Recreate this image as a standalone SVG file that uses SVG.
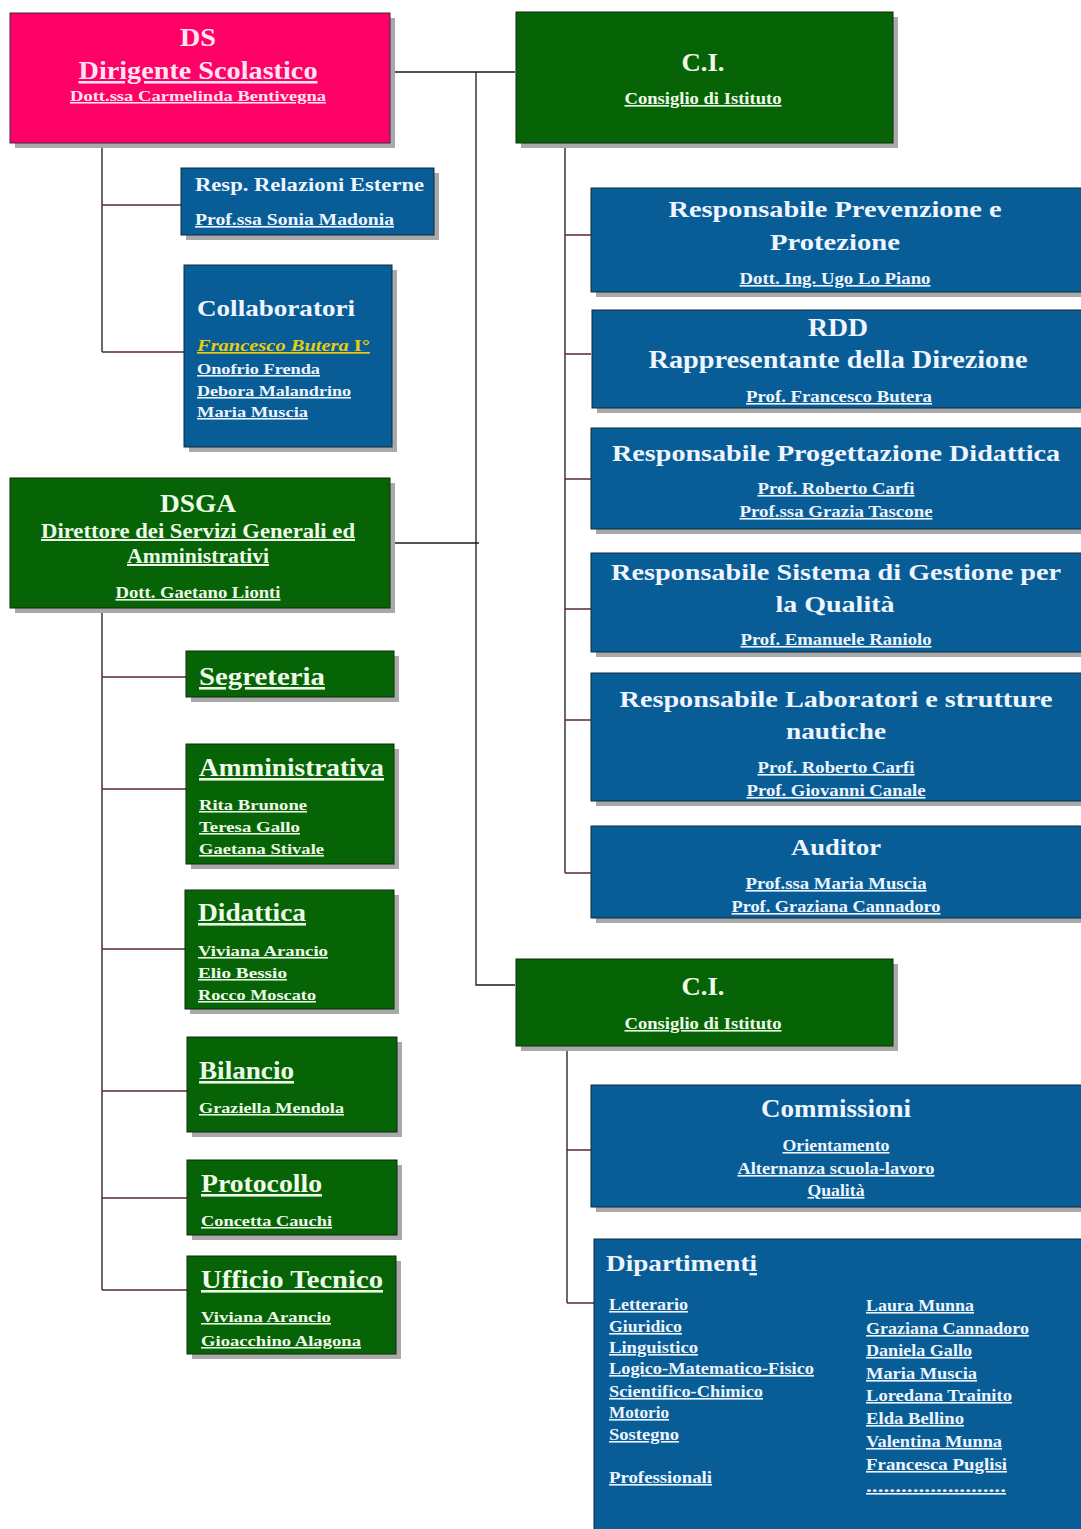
<svg xmlns="http://www.w3.org/2000/svg" width="1081" height="1529" viewBox="0 0 1081 1529">
  <style>
    text { font-family: "Liberation Serif", "Times New Roman", serif; font-weight: bold; }
    .shadow { fill: #a9a9a9; }
    .pink { fill: #ff0066; stroke: #3a2a40; stroke-width: 1; }
    .blue { fill: #095d97; stroke: #0c2b3c; stroke-width: 1; }
    .green { fill: #066406; stroke: #0f2a0f; stroke-width: 1; }
    .tp { fill: #ffe4f0; }
    .tb { fill: #eef5ff; }
    .tg { fill: #eefbe8; }
    .u { text-decoration: underline; }
    .c { text-anchor: middle; }
    .trunk { stroke: #1a1a1a; stroke-width: 1.3; fill: none; }
    .branch { stroke: #5a2438; stroke-width: 1.3; fill: none; }
  </style>

  <!-- connectors -->
  <g id="connectors">
    <path class="trunk" d="M390 72 H515 M476 72 V985 H515"/>
    <path class="trunk" d="M390 543 H479"/>
    <path class="trunk" d="M102 143 V352"/>
    <path class="branch" d="M102 205 H181 M102 352 H184"/>
    <path class="trunk" d="M102 608 V1290"/>
    <path class="branch" d="M102 677 H186 M102 789 H186 M102 949 H185 M102 1091 H187 M102 1198 H187 M102 1290 H187"/>
    <path class="trunk" d="M565 143 V873"/>
    <path class="branch" d="M565 235 H591 M565 354 H591 M565 479 H591 M565 609 H591 M565 720 H591 M565 873 H591"/>
    <path class="trunk" d="M567 1046 V1303"/>
    <path class="branch" d="M567 1150 H591 M567 1303 H594"/>
  </g>

  <!-- DS -->
  <g id="ds">
    <rect class="shadow" x="15" y="18" width="380" height="130"/>
    <rect class="pink" x="10" y="13" width="380" height="130"/>
    <text class="tp c" x="198" y="46" font-size="25" textLength="36" lengthAdjust="spacingAndGlyphs">DS</text>
    <text class="tp c u" x="198" y="79" font-size="25" textLength="239" lengthAdjust="spacingAndGlyphs">Dirigente Scolastico</text>
    <text class="tp c u" x="198" y="101" font-size="15.5" textLength="256" lengthAdjust="spacingAndGlyphs">Dott.ssa Carmelinda  Bentivegna</text>
  </g>

  <!-- Resp. Relazioni Esterne -->
  <g id="resp-relazioni">
    <rect class="shadow" x="186" y="173" width="253" height="67"/>
    <rect class="blue" x="181" y="168" width="253" height="67"/>
    <text class="tb" x="195" y="191" font-size="19" textLength="229" lengthAdjust="spacingAndGlyphs">Resp. Relazioni Esterne</text>
    <text class="tb u" x="195" y="225" font-size="16.5" textLength="199" lengthAdjust="spacingAndGlyphs">Prof.ssa Sonia Madonia</text>
  </g>

  <!-- Collaboratori -->
  <g id="collaboratori">
    <rect class="shadow" x="189" y="270" width="208" height="182"/>
    <rect class="blue" x="184" y="265" width="208" height="182"/>
    <text class="tb" x="197" y="316" font-size="24" textLength="158" lengthAdjust="spacingAndGlyphs">Collaboratori</text>
    <text class="u" x="197" y="351" font-size="17" fill="#e8cc10" font-style="italic" font-weight="normal" textLength="173" lengthAdjust="spacingAndGlyphs">Francesco Butera <tspan font-style="normal" font-weight="bold">I°</tspan></text>
    <text class="tb u" x="197" y="374" font-size="15.5" textLength="123" lengthAdjust="spacingAndGlyphs">Onofrio Frenda</text>
    <text class="tb u" x="197" y="396" font-size="15.5" textLength="154" lengthAdjust="spacingAndGlyphs">Debora Malandrino</text>
    <text class="tb u" x="197" y="417" font-size="15.5" textLength="111" lengthAdjust="spacingAndGlyphs">Maria Muscia</text>
  </g>

  <!-- DSGA -->
  <g id="dsga">
    <rect class="shadow" x="15" y="483" width="380" height="130"/>
    <rect class="green" x="10" y="478" width="380" height="130"/>
    <text class="tg c" x="198" y="512" font-size="26" textLength="76" lengthAdjust="spacingAndGlyphs">DSGA</text>
    <text class="tg c u" x="198" y="538" font-size="20" textLength="314" lengthAdjust="spacingAndGlyphs">Direttore dei Servizi Generali ed</text>
    <text class="tg c u" x="198" y="563" font-size="20" textLength="142" lengthAdjust="spacingAndGlyphs">Amministrativi</text>
    <text class="tg c u" x="198" y="598" font-size="16" textLength="165" lengthAdjust="spacingAndGlyphs">Dott. Gaetano Lionti</text>
  </g>

  <!-- DSGA offices -->
  <g id="segreteria">
    <rect class="shadow" x="191" y="656" width="208" height="46"/>
    <rect class="green" x="186" y="651" width="208" height="46"/>
    <text class="tg u" x="199" y="685" font-size="26" textLength="126" lengthAdjust="spacingAndGlyphs">Segreteria</text>
  </g>
  <g id="amministrativa">
    <rect class="shadow" x="191" y="749" width="208" height="120"/>
    <rect class="green" x="186" y="744" width="208" height="120"/>
    <text class="tg u" x="199" y="776" font-size="26" textLength="185" lengthAdjust="spacingAndGlyphs">Amministrativa</text>
    <text class="tg u" x="199" y="810" font-size="15.5" textLength="108" lengthAdjust="spacingAndGlyphs">Rita Brunone</text>
    <text class="tg u" x="199" y="832" font-size="15.5" textLength="101" lengthAdjust="spacingAndGlyphs">Teresa Gallo</text>
    <text class="tg u" x="199" y="854" font-size="15.5" textLength="125" lengthAdjust="spacingAndGlyphs">Gaetana Stivale</text>
  </g>
  <g id="didattica">
    <rect class="shadow" x="190" y="895" width="209" height="119"/>
    <rect class="green" x="185" y="890" width="209" height="119"/>
    <text class="tg u" x="198" y="921" font-size="26" textLength="108" lengthAdjust="spacingAndGlyphs">Didattica</text>
    <text class="tg u" x="198" y="956" font-size="15.5" textLength="130" lengthAdjust="spacingAndGlyphs">Viviana Arancio</text>
    <text class="tg u" x="198" y="978" font-size="15.5" textLength="89" lengthAdjust="spacingAndGlyphs">Elio Bessio</text>
    <text class="tg u" x="198" y="1000" font-size="15.5" textLength="118" lengthAdjust="spacingAndGlyphs">Rocco Moscato</text>
  </g>
  <g id="bilancio">
    <rect class="shadow" x="192" y="1042" width="210" height="95"/>
    <rect class="green" x="187" y="1037" width="210" height="95"/>
    <text class="tg u" x="199" y="1079" font-size="26" textLength="95" lengthAdjust="spacingAndGlyphs">Bilancio</text>
    <text class="tg u" x="199" y="1113" font-size="15.5" textLength="145" lengthAdjust="spacingAndGlyphs">Graziella Mendola</text>
  </g>
  <g id="protocollo">
    <rect class="shadow" x="192" y="1165" width="210" height="75"/>
    <rect class="green" x="187" y="1160" width="210" height="75"/>
    <text class="tg u" x="201" y="1192" font-size="26" textLength="121" lengthAdjust="spacingAndGlyphs">Protocollo</text>
    <text class="tg u" x="201" y="1226" font-size="15.5" textLength="131" lengthAdjust="spacingAndGlyphs">Concetta Cauchi</text>
  </g>
  <g id="ufficio-tecnico">
    <rect class="shadow" x="192" y="1261" width="209" height="98"/>
    <rect class="green" x="187" y="1256" width="209" height="98"/>
    <text class="tg u" x="201" y="1288" font-size="26" textLength="182" lengthAdjust="spacingAndGlyphs">Ufficio Tecnico</text>
    <text class="tg u" x="201" y="1322" font-size="15.5" textLength="130" lengthAdjust="spacingAndGlyphs">Viviana Arancio</text>
    <text class="tg u" x="201" y="1346" font-size="15.5" textLength="160" lengthAdjust="spacingAndGlyphs">Gioacchino Alagona</text>
  </g>

  <!-- C.I. (top) -->
  <g id="ci-top">
    <rect class="shadow" x="521" y="17" width="377" height="131"/>
    <rect class="green" x="516" y="12" width="377" height="131"/>
    <text class="tg c" x="703" y="71" font-size="26" textLength="43" lengthAdjust="spacingAndGlyphs">C.I.</text>
    <text class="tg c u" x="703" y="104" font-size="16" textLength="157" lengthAdjust="spacingAndGlyphs">Consiglio di Istituto</text>
  </g>

  <!-- Responsabili -->
  <g id="rspp">
    <rect class="shadow" x="596" y="193" width="490" height="104"/>
    <rect class="blue" x="591" y="188" width="495" height="104"/>
    <text class="tb c" x="835" y="217" font-size="24" textLength="333" lengthAdjust="spacingAndGlyphs">Responsabile Prevenzione e</text>
    <text class="tb c" x="835" y="250" font-size="24" textLength="130" lengthAdjust="spacingAndGlyphs">Protezione</text>
    <text class="tb c u" x="835" y="284" font-size="16" textLength="191" lengthAdjust="spacingAndGlyphs">Dott. Ing. Ugo Lo Piano</text>
  </g>
  <g id="rdd">
    <rect class="shadow" x="597" y="315" width="490" height="98"/>
    <rect class="blue" x="592" y="310" width="495" height="98"/>
    <text class="tb c" x="838" y="336" font-size="25" textLength="60" lengthAdjust="spacingAndGlyphs">RDD</text>
    <text class="tb c" x="838" y="368" font-size="25" textLength="379" lengthAdjust="spacingAndGlyphs">Rappresentante della Direzione</text>
    <text class="tb c u" x="839" y="402" font-size="16" textLength="186" lengthAdjust="spacingAndGlyphs">Prof. Francesco Butera</text>
  </g>
  <g id="rpd">
    <rect class="shadow" x="596" y="433" width="490" height="101"/>
    <rect class="blue" x="591" y="428" width="495" height="101"/>
    <text class="tb c" x="836" y="461" font-size="24" textLength="448" lengthAdjust="spacingAndGlyphs">Responsabile Progettazione Didattica</text>
    <text class="tb c u" x="836" y="494" font-size="16" textLength="157" lengthAdjust="spacingAndGlyphs">Prof. Roberto Carfi</text>
    <text class="tb c u" x="836" y="517" font-size="16" textLength="193" lengthAdjust="spacingAndGlyphs">Prof.ssa Grazia Tascone</text>
  </g>
  <g id="rsgq">
    <rect class="shadow" x="596" y="558" width="490" height="99"/>
    <rect class="blue" x="591" y="553" width="495" height="99"/>
    <text class="tb c" x="836" y="580" font-size="24" textLength="450" lengthAdjust="spacingAndGlyphs">Responsabile Sistema di Gestione per</text>
    <text class="tb c" x="835" y="612" font-size="24" textLength="119" lengthAdjust="spacingAndGlyphs">la Qualità</text>
    <text class="tb c u" x="836" y="645" font-size="16" textLength="191" lengthAdjust="spacingAndGlyphs">Prof. Emanuele Raniolo</text>
  </g>
  <g id="rlsn">
    <rect class="shadow" x="596" y="678" width="490" height="128"/>
    <rect class="blue" x="591" y="673" width="495" height="128"/>
    <text class="tb c" x="836" y="707" font-size="24" textLength="433" lengthAdjust="spacingAndGlyphs">Responsabile Laboratori  e strutture</text>
    <text class="tb c" x="836" y="739" font-size="24" textLength="100" lengthAdjust="spacingAndGlyphs">nautiche</text>
    <text class="tb c u" x="836" y="773" font-size="16" textLength="157" lengthAdjust="spacingAndGlyphs">Prof. Roberto Carfi</text>
    <text class="tb c u" x="836" y="796" font-size="16" textLength="179" lengthAdjust="spacingAndGlyphs">Prof. Giovanni Canale</text>
  </g>
  <g id="auditor">
    <rect class="shadow" x="596" y="831" width="490" height="92"/>
    <rect class="blue" x="591" y="826" width="495" height="92"/>
    <text class="tb c" x="836" y="855" font-size="24" textLength="90" lengthAdjust="spacingAndGlyphs">Auditor</text>
    <text class="tb c u" x="836" y="889" font-size="16" textLength="181" lengthAdjust="spacingAndGlyphs">Prof.ssa Maria Muscia</text>
    <text class="tb c u" x="836" y="912" font-size="16" textLength="209" lengthAdjust="spacingAndGlyphs">Prof. Graziana Cannadoro</text>
  </g>

  <!-- C.I. (bottom) -->
  <g id="ci-bottom">
    <rect class="shadow" x="521" y="964" width="377" height="87"/>
    <rect class="green" x="516" y="959" width="377" height="87"/>
    <text class="tg c" x="703" y="995" font-size="26" textLength="43" lengthAdjust="spacingAndGlyphs">C.I.</text>
    <text class="tg c u" x="703" y="1029" font-size="16" textLength="157" lengthAdjust="spacingAndGlyphs">Consiglio di Istituto</text>
  </g>

  <!-- Commissioni -->
  <g id="commissioni">
    <rect class="shadow" x="596" y="1090" width="490" height="122"/>
    <rect class="blue" x="591" y="1085" width="495" height="122"/>
    <text class="tb c" x="836" y="1117" font-size="26" textLength="150" lengthAdjust="spacingAndGlyphs">Commissioni</text>
    <text class="tb c u" x="836" y="1151" font-size="16" textLength="107" lengthAdjust="spacingAndGlyphs">Orientamento</text>
    <text class="tb c u" x="836" y="1174" font-size="16" textLength="197" lengthAdjust="spacingAndGlyphs">Alternanza scuola-lavoro</text>
    <text class="tb c u" x="836" y="1196" font-size="16" textLength="57" lengthAdjust="spacingAndGlyphs">Qualità</text>
  </g>

  <!-- Dipartimenti -->
  <g id="dipartimenti">
    <rect class="shadow" x="599" y="1244" width="490" height="300"/>
    <rect class="blue" x="594" y="1239" width="495" height="300"/>
    <text class="tb" x="606" y="1271" font-size="24" textLength="151" lengthAdjust="spacingAndGlyphs">Dipartiment<tspan class="u">i</tspan></text>
    <g font-size="16">
      <text class="tb u" x="609" y="1310" textLength="79" lengthAdjust="spacingAndGlyphs">Letterario</text>
      <text class="tb u" x="609" y="1332" textLength="73" lengthAdjust="spacingAndGlyphs">Giuridico</text>
      <text class="tb u" x="609" y="1353" textLength="89" lengthAdjust="spacingAndGlyphs">Linguistico</text>
      <text class="tb u" x="609" y="1374" textLength="205" lengthAdjust="spacingAndGlyphs">Logico-Matematico-Fisico</text>
      <text class="tb u" x="609" y="1397" textLength="154" lengthAdjust="spacingAndGlyphs">Scientifico-Chimico</text>
      <text class="tb u" x="609" y="1418" textLength="60" lengthAdjust="spacingAndGlyphs">Motorio</text>
      <text class="tb u" x="609" y="1440" textLength="70" lengthAdjust="spacingAndGlyphs">Sostegno</text>
      <text class="tb u" x="609" y="1483" textLength="103" lengthAdjust="spacingAndGlyphs">Professionali</text>
      <text class="tb u" x="866" y="1311" textLength="108" lengthAdjust="spacingAndGlyphs">Laura Munna</text>
      <text class="tb u" x="866" y="1334" textLength="163" lengthAdjust="spacingAndGlyphs">Graziana Cannadoro</text>
      <text class="tb u" x="866" y="1356" textLength="106" lengthAdjust="spacingAndGlyphs">Daniela Gallo</text>
      <text class="tb u" x="866" y="1379" textLength="111" lengthAdjust="spacingAndGlyphs">Maria Muscia</text>
      <text class="tb u" x="866" y="1401" textLength="146" lengthAdjust="spacingAndGlyphs">Loredana Trainito</text>
      <text class="tb u" x="866" y="1424" textLength="98" lengthAdjust="spacingAndGlyphs">Elda Bellino</text>
      <text class="tb u" x="866" y="1447" textLength="136" lengthAdjust="spacingAndGlyphs">Valentina Munna</text>
      <text class="tb u" x="866" y="1470" textLength="141" lengthAdjust="spacingAndGlyphs">Francesca Puglisi</text>
      <text class="tb u" x="866" y="1492" textLength="140" lengthAdjust="spacingAndGlyphs">........................</text>
    </g>
  </g>
</svg>
